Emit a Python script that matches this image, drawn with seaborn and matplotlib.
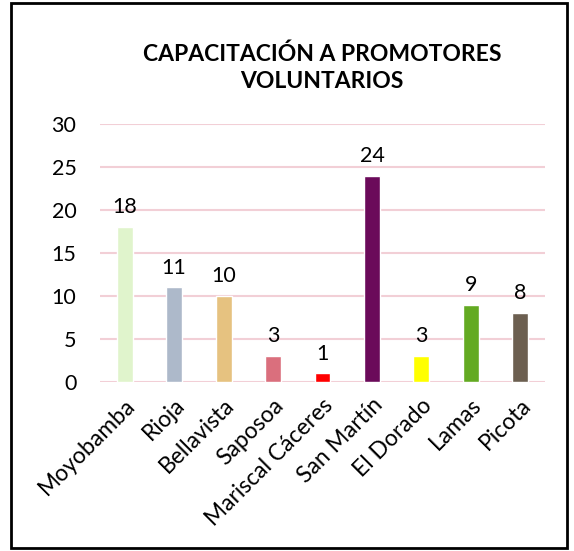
import matplotlib
matplotlib.use("Agg")
import matplotlib.pyplot as plt
import seaborn as sns
import pandas as pd
from matplotlib.patches import Rectangle

categories = ["Moyobamba", "Rioja", "Bellavista", "Saposoa", "Mariscal Cáceres",
              "San Martín", "El Dorado", "Lamas", "Picota"]
values = [18, 11, 10, 3, 1, 24, 3, 9, 8]
colors = ["#E0F4CC", "#ADB9CA", "#E6C280", "#DA6F7D", "#FF0000",
          "#6B0A5A", "#FFFF00", "#63AA22", "#6C5F50"]
title = "CAPACITACIÓN A PROMOTORES\nVOLUNTARIOS"
yticks = [0, 5, 10, 15, 20, 25, 30]

sns.set_theme(style="white")
plt.rcParams["font.family"] = ["Lato", "DejaVu Sans"]

df = pd.DataFrame({"cat": categories, "val": values})

fig = plt.figure(figsize=(5.74, 5.51), dpi=100)
ax = fig.add_axes([100/574, 1-382/551, 445/574, 258/551])

sns.barplot(data=df, x="cat", y="val", hue="cat", palette=colors,
            legend=False, width=0.32, ax=ax, saturation=1)

ax.set_ylim(0, 30)
ax.set_yticks(yticks)
ax.set_xlim(-0.5, len(categories) - 0.5)
for y in yticks:
    ax.axhline(y, color="#F2CFD6", lw=1.5, zorder=0)
for s in ax.spines.values():
    s.set_visible(False)
ax.tick_params(axis="y", length=0, labelsize=15.5, colors="black", pad=17)
ax.tick_params(axis="x", length=0, labelsize=16.5, colors="black", pad=9)
ax.set_xlabel("")
ax.set_ylabel("")
plt.setp(ax.get_xticklabels(), rotation=45, ha="right", rotation_mode="anchor")

for c in ax.containers:
    ax.bar_label(c, padding=7, fontsize=15.5, color="black")

fig.text(322/574, 1-68/551, title, ha="center", va="center",
         fontsize=16.5, fontweight="bold", linespacing=1.35, color="black")

fig.patches.append(Rectangle((11/574, 3/551), 556/574, 545/551,
                             transform=fig.transFigure, fill=False,
                             edgecolor="black", lw=2))

fig.savefig("out.png", dpi=100)
